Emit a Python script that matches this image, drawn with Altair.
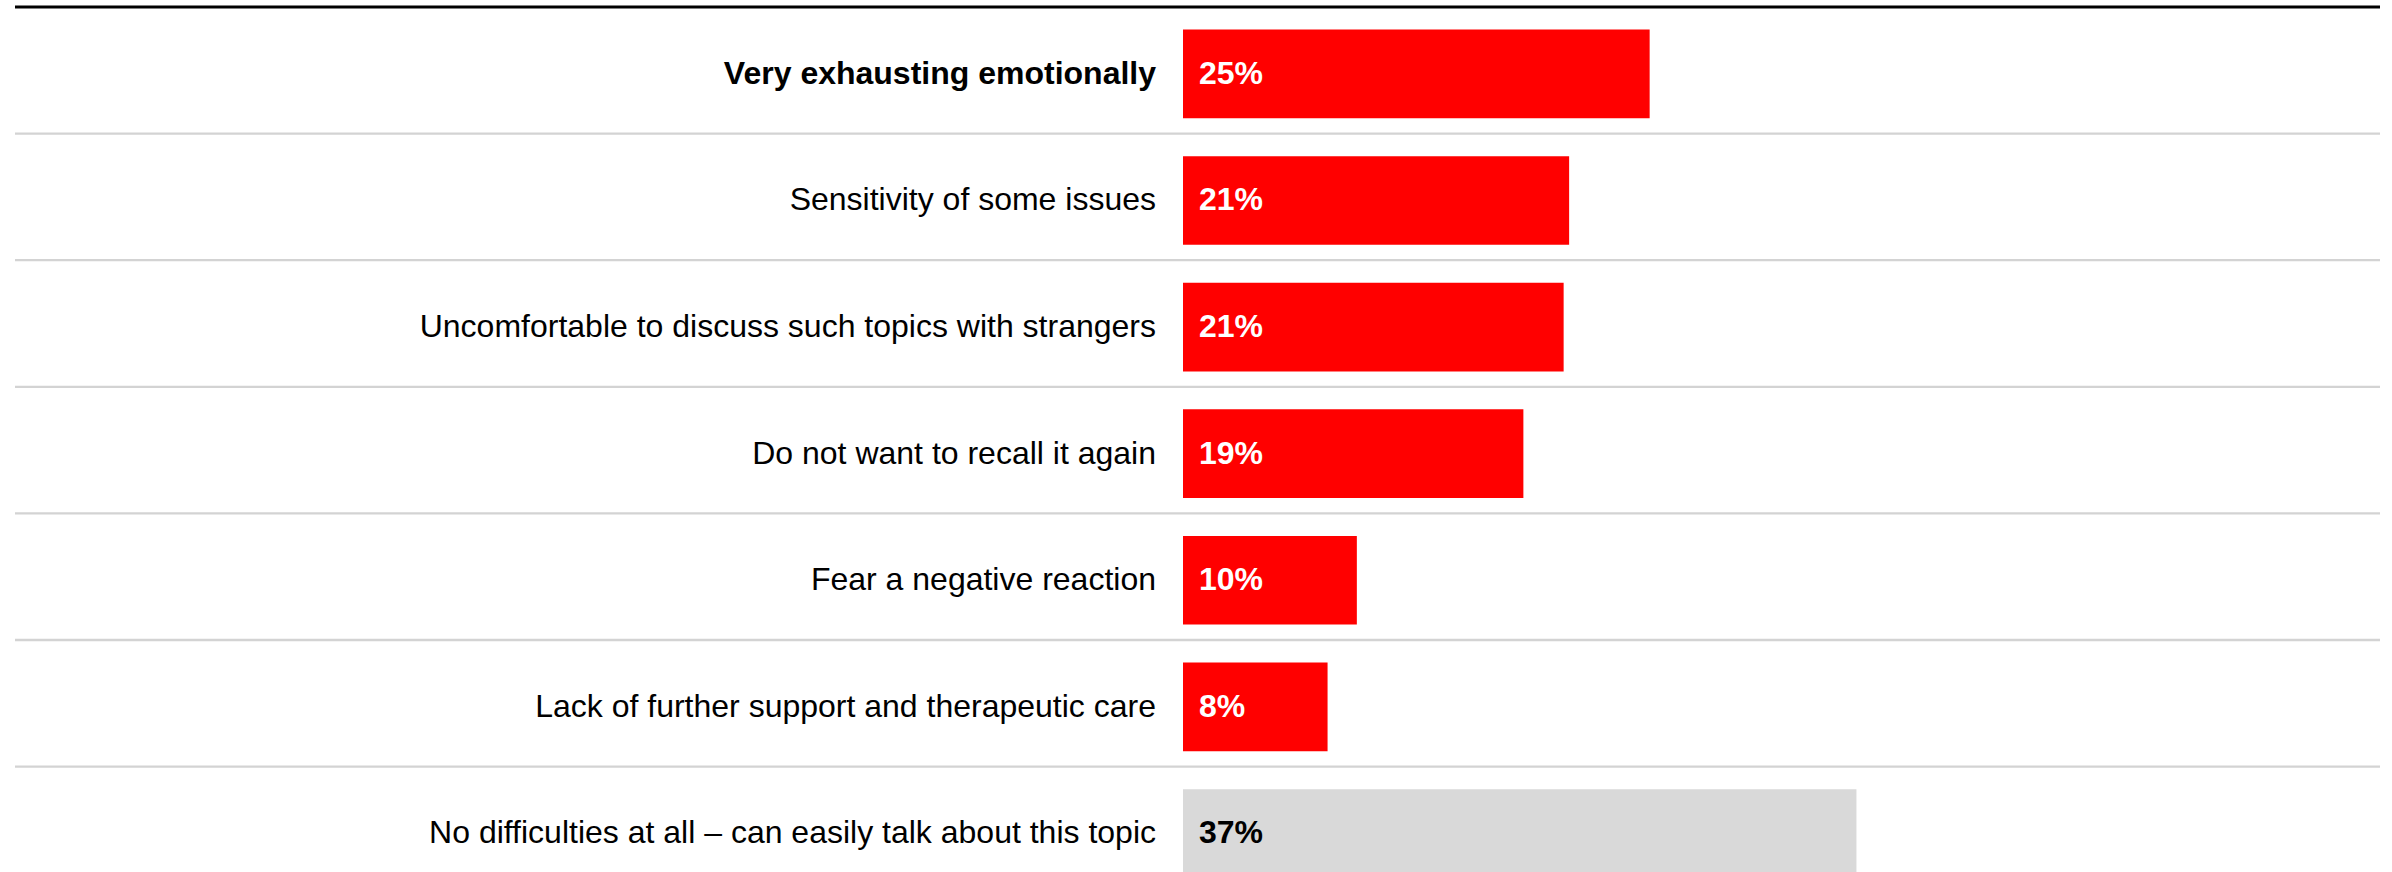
import altair as alt
import pandas as pd

categories = [
    "Very exhausting emotionally",
    "Sensitivity of some issues",
    "Uncomfortable to discuss such topics with strangers",
    "Do not want to recall it again",
    "Fear a negative reaction",
    "Lack of further support and therapeutic care",
    "No difficulties at all \u2013 can easily talk about this topic",
]
values = [25.5, 21.1, 20.8, 18.6, 9.5, 7.9, 36.8]
value_labels = ["25%", "21%", "21%", "19%", "10%", "8%", "37%"]

df = pd.DataFrame({
    "category": categories,
    "value": values,
    "label": value_labels,
    "order": list(range(len(categories))),
})

W = 2365
H = 865
STEP = 126.6
FONT = "Liberation Sans"

y_scale = alt.Scale(domain=categories, range=[0, STEP * 7],
                    paddingInner=0.3, paddingOuter=0.15, align=0.594)
x_scale = alt.Scale(domain=[0, 100], range=[1168, 1168 + 1830])

base = alt.Chart(df)
Y = alt.Y("category:N", scale=y_scale, axis=None)

separators = base.transform_filter(alt.datum.order < 6).mark_rule(
    color="#D3D3D3", strokeWidth=2.3, yOffset=15.4
).encode(
    y=alt.Y("category:N", bandPosition=1, scale=y_scale, axis=None),
    x=alt.value(0), x2=alt.value(W),
)

top_line = base.transform_filter(alt.datum.order == 0).mark_rule(
    color="#000000", strokeWidth=3
).encode(y=alt.value(0), x=alt.value(0), x2=alt.value(W))

bars = base.mark_bar(clip=True).encode(
    y=Y,
    x=alt.X("value:Q", scale=x_scale, axis=None),
    color=alt.condition(alt.datum.order == 6, alt.value("#D9D9D9"), alt.value("#FF0000")),
)

cat_bold = base.transform_filter(alt.datum.order == 0).mark_text(
    align="right", baseline="middle", dx=-27, font=FONT, fontSize=32,
    fontWeight="bold", color="#000000"
).encode(y=Y, x=alt.datum(0), text="category:N")

cat_norm = base.transform_filter(alt.datum.order > 0).mark_text(
    align="right", baseline="middle", dx=-27, font=FONT, fontSize=32,
    fontWeight="normal", color="#000000"
).encode(y=Y, x=alt.datum(0), text="category:N")

val_text = base.mark_text(
    align="left", baseline="middle", dx=16, font=FONT, fontSize=32,
    fontWeight="bold"
).encode(
    y=Y, x=alt.datum(0), text="label:N",
    color=alt.condition(alt.datum.order == 6, alt.value("#000000"), alt.value("#FFFFFF")),
)

chart = alt.layer(separators, top_line, bars, cat_bold, cat_norm, val_text).properties(
    width=W, height=H,
    padding={"left": 15, "top": 7, "right": 12, "bottom": 0},
    autosize=alt.AutoSizeParams(type="none"),
    background="white",
).configure_view(strokeWidth=0)

chart.save("out.html", embed_options={"renderer": "svg", "actions": False})
